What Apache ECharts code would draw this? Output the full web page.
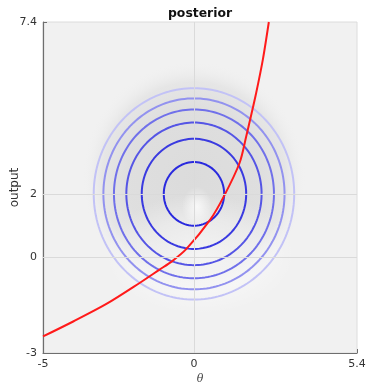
<!DOCTYPE html>
<html>
<head>
<meta charset="utf-8">
<script src="https://cdn.jsdelivr.net/npm/echarts@6/dist/echarts.min.js"></script>
<style>
  html, body { margin: 0; padding: 0; background: #fff; }
  #chart { width: 367px; height: 386px; }
</style>
</head>
<body>
<div id="chart"></div>
<script>
// Axis ranges and tick labels
var xRange = [-5, 5.4];
var yRange = [-3, 7.4];
var xTicks = [-5, 0, 5.4];
var yTicks = [-3, 0, 2, 7.4];
var xGridLines = [0];
var yGridLines = [0, 2];

// Prior mean and radii of the contour circles (inner to outer)
var priorMean = [0, 2];
var contourRadii = [1, 1.73, 2.24, 2.65, 3, 3.32];
var contourColors = ['#2a2ade', '#3a3ae0', '#5555e5', '#7070ea', '#9292ef', '#c2c2f6'];

// Model output curve
var curveTheta = [-5, -4, -2.9, -1.8, -1.14, -0.73, -0.25, 0.54, 0.99, 1.51, 1.73, 1.86, 2.06, 2.28, 2.48];
var curveOutput = [-2.48, -2.01, -1.46, -0.8, -0.38, -0.12, 0.27, 1.19, 1.92, 2.97, 3.8, 4.33, 5.17, 6.21, 7.4];

// Density shading: centres of the darker body and the lighter patches
var shadeDarkCenter = [0, 2.5];
var shadeLightCenter = [0.2, 0.1];
var shadeSpotCenter = [0.1, 1.6];

var chart = echarts.init(document.getElementById('chart'));

function circlePoints(c, r) {
  var pts = [];
  for (var i = 0; i <= 180; i++) {
    var a = i / 180 * Math.PI * 2;
    pts.push([c[0] + r * Math.cos(a), c[1] + r * Math.sin(a)]);
  }
  return pts;
}

function radial(stops) {
  return { type: 'radial', x: 0.5, y: 0.5, r: 0.5, colorStops: stops };
}

var fmt = function (v) { return String(Math.round(v * 10) / 10); };

var series = [];

series.push({
  type: 'scatter', z: 1, silent: true,
  data: [shadeDarkCenter],
  symbol: 'circle', symbolSize: [224, 234],
  itemStyle: { color: radial([
    { offset: 0, color: '#d6d6d6' },
    { offset: 0.6, color: '#dadada' },
    { offset: 0.82, color: '#e3e3e3' },
    { offset: 1, color: 'rgba(241,241,241,0)' }
  ]) },
  markLine: {
    silent: true, symbol: 'none', animation: false,
    label: { show: false },
    lineStyle: { color: '#dadada', width: 1, type: 'solid' },
    data: xGridLines.map(function (v) { return { xAxis: v }; })
      .concat(yGridLines.map(function (v) { return { yAxis: v }; }))
  }
});

series.push({
  type: 'scatter', z: 1, silent: true,
  data: [shadeLightCenter],
  symbol: 'circle', symbolSize: [190, 120],
  itemStyle: { color: radial([
    { offset: 0, color: 'rgba(255,255,255,0.8)' },
    { offset: 0.6, color: 'rgba(255,255,255,0.45)' },
    { offset: 1, color: 'rgba(255,255,255,0)' }
  ]) }
});

series.push({
  type: 'scatter', z: 1, silent: true,
  data: [shadeSpotCenter],
  symbol: 'circle', symbolSize: [30, 40],
  itemStyle: { color: radial([
    { offset: 0, color: 'rgba(255,255,255,0.95)' },
    { offset: 1, color: 'rgba(255,255,255,0)' }
  ]) }
});

contourRadii.forEach(function (r, i) {
  series.push({
    type: 'line', z: 3, silent: true, smooth: false,
    showSymbol: false, animation: false,
    data: circlePoints(priorMean, r),
    lineStyle: { color: contourColors[i], width: 2 }
  });
});

series.push({
  type: 'line', z: 4, silent: true, smooth: 0.3,
  showSymbol: false, animation: false,
  data: curveTheta.map(function (t, i) { return [t, curveOutput[i]]; }),
  lineStyle: { color: '#ff1a1a', width: 2 }
});

chart.setOption({
  animation: false,
  backgroundColor: '#ffffff',
  title: {
    text: 'posterior', left: 163, top: 3,
    textStyle: { fontFamily: 'DejaVu Sans', fontSize: 12.4, fontWeight: 'bold', color: '#111' }
  },
  grid: {
    left: 43, right: 10, top: 22, bottom: 33,
    containLabel: false, outerBoundsMode: 'none',
    show: true, backgroundColor: '#f1f1f1', borderColor: '#dcdcdc', borderWidth: 1
  },
  xAxis: {
    type: 'value', min: xRange[0], max: xRange[1],
    name: 'θ', nameLocation: 'middle', nameGap: 21, nameMoveOverlap: false,
    nameTextStyle: { fontFamily: 'DejaVu Serif', fontStyle: 'italic', fontSize: 11, color: '#444' },
    axisLine: { show: true, onZero: false, lineStyle: { color: '#6e6e6e', width: 1.2 } },
    axisTick: { show: true, inside: true, length: 4, customValues: xTicks, lineStyle: { color: '#6e6e6e' } },
    axisLabel: { customValues: xTicks, formatter: fmt, margin: 6,
      fontFamily: 'DejaVu Sans', fontSize: 11, color: '#333' },
    splitLine: { show: false }
  },
  yAxis: {
    type: 'value', min: yRange[0], max: yRange[1],
    name: 'output', nameLocation: 'middle', nameGap: 22, nameMoveOverlap: false,
    nameTextStyle: { fontFamily: 'DejaVu Sans', fontSize: 12, color: '#333' },
    axisLine: { show: true, onZero: false, lineStyle: { color: '#6e6e6e', width: 1.2 } },
    axisTick: { show: true, inside: true, length: 4, customValues: yTicks, lineStyle: { color: '#6e6e6e' } },
    axisLabel: { customValues: yTicks, formatter: fmt, margin: 6,
      fontFamily: 'DejaVu Sans', fontSize: 11, color: '#333' },
    splitLine: { show: false }
  },
  series: series
});
</script>
</body>
</html>
